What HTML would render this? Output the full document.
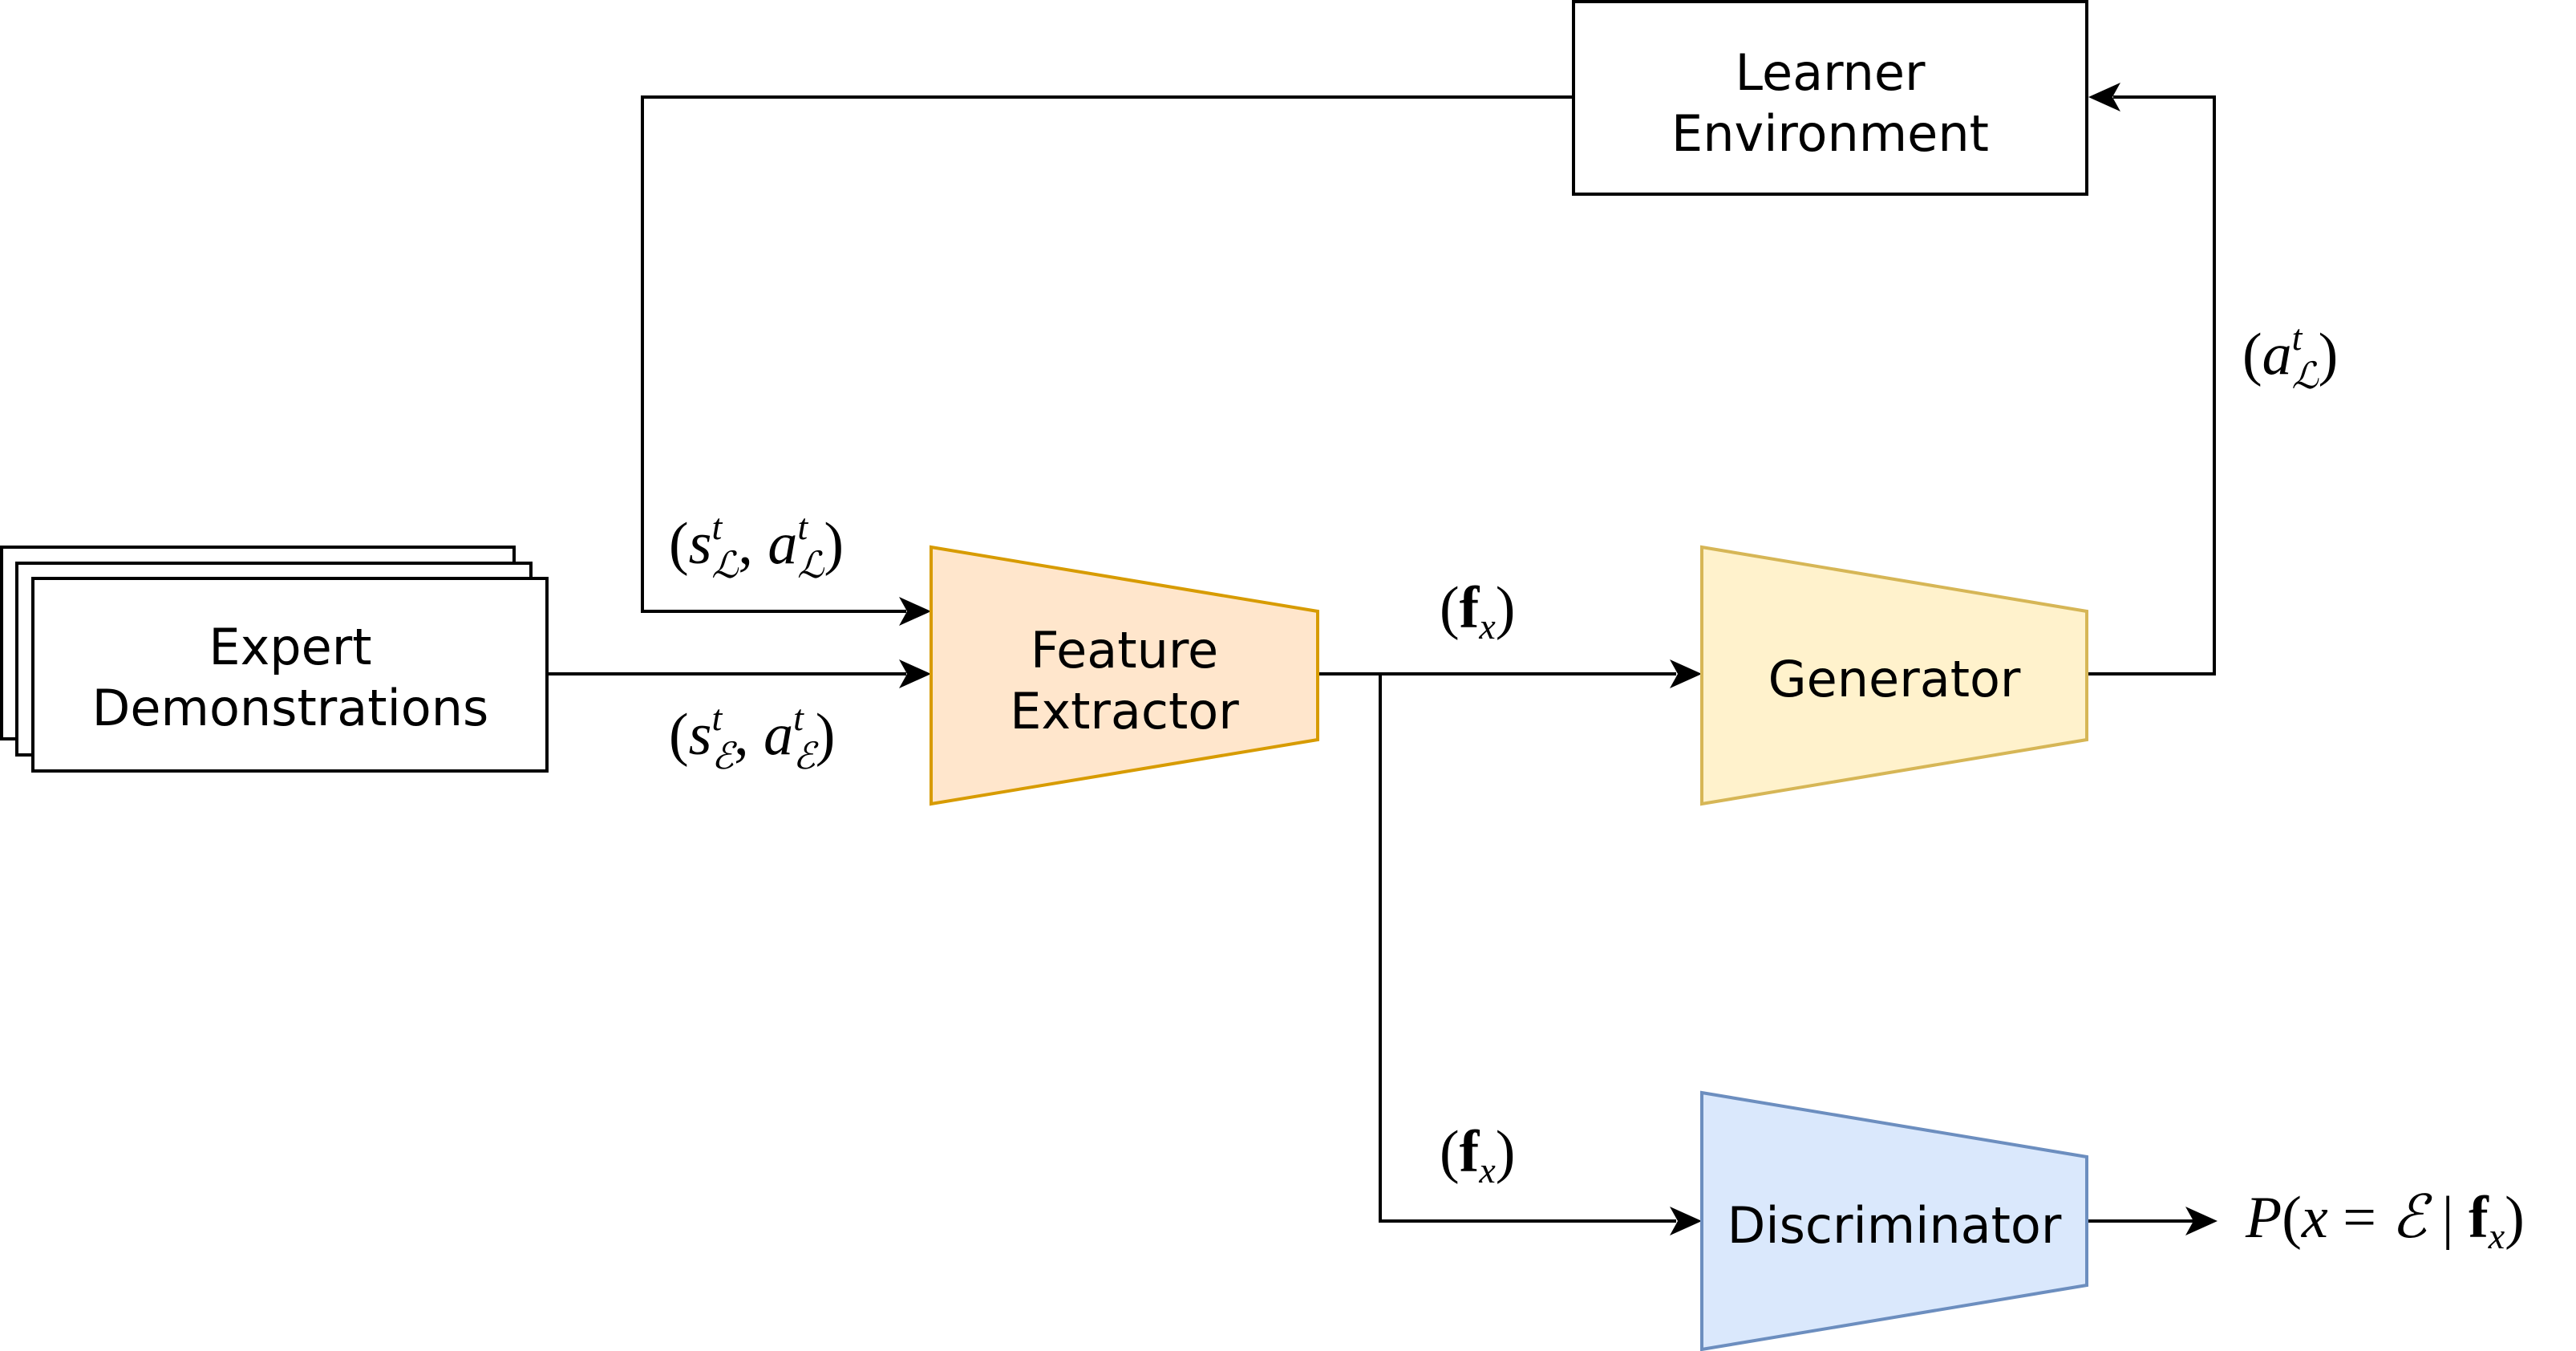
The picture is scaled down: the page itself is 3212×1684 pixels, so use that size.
<!DOCTYPE html>
<html><head><meta charset="utf-8"><style>
html,body{margin:0;padding:0;background:#fff;}
svg{display:block}
.t{font-family:"DejaVu Sans","Liberation Sans",sans-serif;font-size:62px;fill:#000;text-anchor:middle}
.m{font-family:"Liberation Serif","DejaVu Serif",serif;font-size:74px;fill:#000}
</style></head><body>
<svg width="3212" height="1684" viewBox="0 0 3212 1684" xmlns="http://www.w3.org/2000/svg">
<g fill="none" stroke="#000" stroke-width="4">
<rect x="2" y="682" width="639" height="239" fill="#fff"/>
<rect x="21" y="702" width="641" height="239" fill="#fff"/>
<rect x="41" y="721" width="641" height="240" fill="#fff"/>
<rect x="1962" y="2" width="640" height="240" fill="#fff"/>
<polyline points="682,840 1130,840"/>
<polyline points="1960,121 801,121 801,762 1130,762"/>
<polyline points="1643,840 2090,840"/>
<polyline points="1721,840 1721,1522 2090,1522"/>
<polyline points="2602,840 2761,840 2761,121 2635,121"/>
<polyline points="2602,1522 2735,1522"/>
</g>
<g fill="#000">
<path d="M1161,762 l-40,-18 l10,18 l-10,18z"/>
<path d="M1161,840 l-40,-18 l10,18 l-10,18z"/>
<path d="M2122,840 l-40,-18 l10,18 l-10,18z"/>
<path d="M2122,1522 l-40,-18 l10,18 l-10,18z"/>
<path d="M2765,1522 l-40,-18 l10,18 l-10,18z"/>
<path d="M2604,121 l40,-18 l-10,18 l10,18z"/>
</g>
<polygon points="1161,682 1643,762 1643,922 1161,1002" fill="#ffe6cc" stroke="#d79b00" stroke-width="4"/>
<polygon points="2122,682 2602,762 2602,922 2122,1002" fill="#fff2cc" stroke="#d6b656" stroke-width="4"/>
<polygon points="2122,1362 2602,1442 2602,1602 2122,1682" fill="#dae8fc" stroke="#6c8ebf" stroke-width="4"/>
<text class="t" x="362" y="828">Expert</text>
<text class="t" x="362" y="904">Demonstrations</text>
<text class="t" x="2282" y="112">Learner</text>
<text class="t" x="2282" y="188">Environment</text>
<text class="t" x="1402" y="832">Feature</text>
<text class="t" x="1402" y="908">Extractor</text>
<text class="t" x="2362" y="868">Generator</text>
<text class="t" x="2362" y="1549">Discriminator</text>
<text class="m" x="834" y="702">(<tspan font-style="italic">s</tspan><tspan font-style="italic" font-size="46" dy="-30">t</tspan><tspan font-style="italic" font-size="46" dx="-13" dy="48">ℒ</tspan><tspan dy="-18">,  </tspan><tspan font-style="italic">a</tspan><tspan font-style="italic" font-size="46" dy="-30">t</tspan><tspan font-style="italic" font-size="46" dx="-13" dy="48">ℒ</tspan><tspan dy="-18">)</tspan></text>
<text class="m" x="834" y="940">(<tspan font-style="italic">s</tspan><tspan font-style="italic" font-size="46" dy="-30">t</tspan><tspan font-style="italic" font-size="46" dx="-13" dy="48">ℰ</tspan><tspan dy="-18">,  </tspan><tspan font-style="italic">a</tspan><tspan font-style="italic" font-size="46" dy="-30">t</tspan><tspan font-style="italic" font-size="46" dx="-13" dy="48">ℰ</tspan><tspan dy="-18">)</tspan></text>
<text class="m" x="1795" y="782">(<tspan font-weight="bold">f</tspan><tspan font-style="italic" font-size="46" dy="14">x</tspan><tspan dy="-14">)</tspan></text>
<text class="m" x="1795" y="1460">(<tspan font-weight="bold">f</tspan><tspan font-style="italic" font-size="46" dy="14">x</tspan><tspan dy="-14">)</tspan></text>
<text class="m" x="2796" y="466">(<tspan font-style="italic">a</tspan><tspan font-style="italic" font-size="46" dy="-30">t</tspan><tspan font-style="italic" font-size="46" dx="-13" dy="48">ℒ</tspan><tspan dy="-18">)</tspan></text>
<text class="m" x="2800" y="1542"><tspan font-style="italic">P</tspan>(<tspan font-style="italic">x</tspan>  =  <tspan font-style="italic">ℰ</tspan> | <tspan font-weight="bold">f</tspan><tspan font-style="italic" font-size="46" dy="14">x</tspan><tspan dy="-14">)</tspan></text>
</svg>
</body></html>
